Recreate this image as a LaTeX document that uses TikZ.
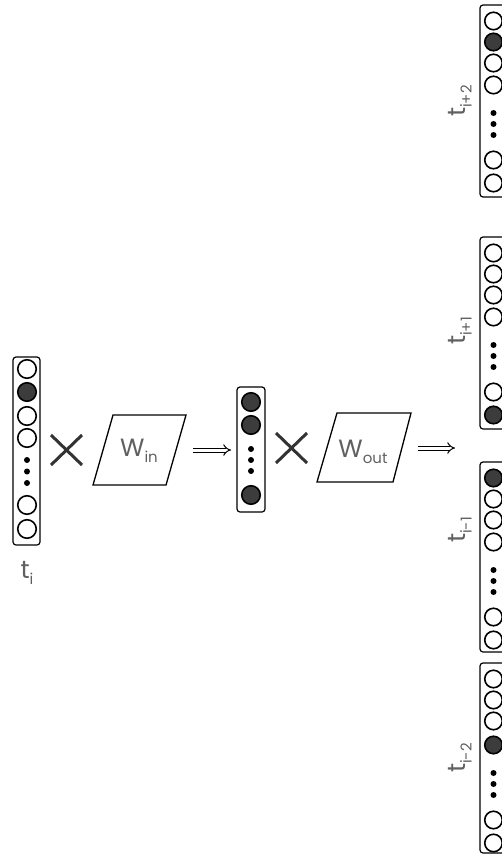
\documentclass[tikz,border=0pt]{standalone}
\usepackage{fontspec}
\setmainfont{Poppins}
\usetikzlibrary{arrows.meta}
\definecolor{txt}{HTML}{606060}
\definecolor{dark}{HTML}{3C3C3C}
\definecolor{crs}{HTML}{333333}
\newcommand{\lab}[2]{#1{\fontsize{15}{15}\selectfont\raisebox{-6pt}{#2}}}
\begin{document}
\begin{tikzpicture}[x=1pt,y=-1pt,
  vecbox/.style={draw=black, line width=1.2pt, rounded corners=3pt, inner sep=0pt},
  oc/.style={circle, draw=black, line width=1.6pt, fill=white, inner sep=0pt, minimum size=#1},
  oc/.default=18.5,
  fc/.style={oc=#1, fill=dark},
  fc/.default=18.5,
  dotp/.style={circle, fill=black, inner sep=0pt, minimum size=6},
  lbl/.style={text=txt, font=\fontsize{25}{25}\selectfont, inner sep=0pt},
  mat/.style={draw=black, line width=1.3pt},
  crossline/.style={draw=crs, line width=3pt},
  imp/.style={draw=black, double=white, double distance=3pt, line width=1pt, -{Implies}}
]
\useasboundingbox (0,0) rectangle (502,860);

% ---- input vector t_i
\node[vecbox, minimum width=27, minimum height=188] (ti) at (26.5,451) {};
\foreach \y/\s in {369/oc,392/fc,416/oc,438/oc,505/oc,529/oc} \node[\s] (ti-\y) at (27,\y) {};
\foreach \y in {460,471.5,483} \node[dotp] (tid-\y) at (27,\y) {};
\node[lbl] (lti) at (27,573) {\lab{t}{i}};

% ---- cross 1
\coordinate (x1a) at (51,435); \coordinate (x1b) at (82,465);
\coordinate (x1c) at (51,465); \coordinate (x1d) at (82,435);
\draw[crossline] (x1a) -- (x1b); \draw[crossline] (x1c) -- (x1d);

% ---- W_in
\coordinate (wi1) at (113,415); \coordinate (wi2) at (186,415);
\coordinate (wi3) at (166,485); \coordinate (wi4) at (93,485);
\draw[mat] (wi1) -- (wi2) -- (wi3) -- (wi4) -- cycle;
\node[lbl] (win) at (139,451) {\lab{W}{in}};

% ---- arrow 1
\coordinate (a1s) at (193,450); \coordinate (a1e) at (231,450);
\draw[imp] (a1s) -- (a1e);

% ---- hidden vector
\node[vecbox, minimum width=28, minimum height=125] (h) at (251,449.5) {};
\foreach \y in {402,425,495} \node[fc] (h-\y) at (251,\y) {};
\foreach \y in {449,460,471} \node[dotp] (hd-\y) at (251,\y) {};

% ---- cross 2
\coordinate (x2a) at (276,433); \coordinate (x2b) at (307,463);
\coordinate (x2c) at (276,463); \coordinate (x2d) at (307,433);
\draw[crossline] (x2a) -- (x2b); \draw[crossline] (x2c) -- (x2d);

% ---- W_out
\coordinate (wo1) at (337,413); \coordinate (wo2) at (411,413);
\coordinate (wo3) at (393,482); \coordinate (wo4) at (317,482);
\draw[mat] (wo1) -- (wo2) -- (wo3) -- (wo4) -- cycle;
\node[lbl] (wout) at (363,452) {\lab{W}{out}};

% ---- arrow 2
\coordinate (a2s) at (418,448); \coordinate (a2e) at (455,448);
\draw[imp] (a2s) -- (a2e);

% ---- output vectors (cut by right edge)
% t_{i+2}
\node[vecbox, minimum width=28, minimum height=192] (o1) at (494,101) {};
\foreach \y/\s in {21/oc,42/fc,63/oc,85/oc,160/oc,183/oc} \node[\s=17.5] (o1-\y) at (493.5,\y) {};
\foreach \y in {113,124,135} \node[dotp] (o1d-\y) at (493.5,\y) {};
\node[lbl, rotate=90] (lo1) at (460,101) {\lab{t}{i+2}};
% t_{i+1}
\node[vecbox, minimum width=28, minimum height=192] (o2) at (494,333) {};
\foreach \y/\s in {253/oc,274/oc,295/oc,317/oc,392/oc,415/fc} \node[\s=17.5] (o2-\y) at (493.5,\y) {};
\foreach \y in {345,356,367} \node[dotp] (o2d-\y) at (493.5,\y) {};
\node[lbl, rotate=90] (lo2) at (460,331) {\lab{t}{i+1}};
% t_{i-1}
\node[vecbox, minimum width=28, minimum height=190] (o3) at (494,557) {};
\foreach \y/\s in {478/fc,499/oc,520/oc,542/oc,617/oc,640/oc} \node[\s=17.5] (o3-\y) at (493.5,\y) {};
\foreach \y in {570,581,592} \node[dotp] (o3d-\y) at (493.5,\y) {};
\node[lbl, rotate=90] (lo3) at (460,530) {\lab{t}{i-1}};
% t_{i-2}
\node[vecbox, minimum width=28, minimum height=190] (o4) at (494,758) {};
\foreach \y/\s in {679/oc,700/oc,721/oc,745/fc,820/oc,843/oc} \node[\s=17.5] (o4-\y) at (493.5,\y) {};
\foreach \y in {773,784,795} \node[dotp] (o4d-\y) at (493.5,\y) {};
\node[lbl, rotate=90] (lo4) at (460,758) {\lab{t}{i-2}};
\end{tikzpicture}
\end{document}
